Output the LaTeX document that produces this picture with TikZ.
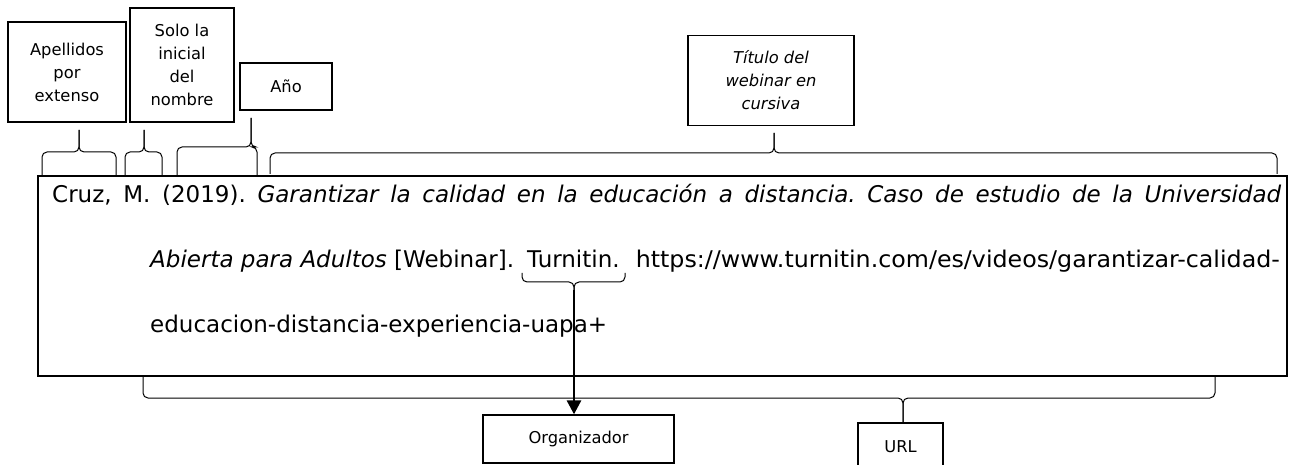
\documentclass[tikz,border=0pt]{standalone}
\usepackage{fontspec}
\setmainfont{DejaVu Sans}
\usetikzlibrary{arrows.meta}

\tikzset{
  etiqueta/.style={draw, line width=1.3pt, align=center, inner sep=0pt,
                   font=\fontsize{16.3}{23}\selectfont},
  llavelinea/.style={line width=1pt, rounded corners=5pt},
  flecha/.style={line width=2.8pt, -{Triangle[width=14pt,length=14pt]}},
  texto/.style={inner sep=0pt, font=\fontsize{23}{27}\selectfont},
}

% llave: x izq, x der, x punta, y linea, y extremos, y punta
\newcommand{\llave}[6]{%
  \draw[llavelinea] (#1,#5) -- (#1,#4) -- (#3,#4) -- (#3,#6);
  \draw[llavelinea] (#3,#6) -- (#3,#4) -- (#2,#4) -- (#2,#5);}

\begin{document}
\frenchspacing
\begin{tikzpicture}[x=1pt,y=-1pt]
  \useasboundingbox (0,0) rectangle (1294,465);

  % cajas de arriba
  \node[etiqueta, minimum width=118pt, minimum height=100pt] (apellidos) at (67,72) {Apellidos\\por\\extenso};
  \node[etiqueta, minimum width=104pt, minimum height=114pt] (inicial) at (182,65) {Solo la\\inicial\\del\\nombre};
  \node[etiqueta, minimum width=92pt, minimum height=47pt] (anio) at (286,86.5) {Año};
  \node[etiqueta, minimum width=166pt, minimum height=90pt,
        font=\fontsize{16.3}{23}\selectfont\itshape] (titulo) at (771,80.5) {Título del\\webinar en\\cursiva};

  % la referencia
  \node[draw, line width=2pt, minimum width=1249pt, minimum height=200pt, inner sep=0pt] (cita) at (662.5,276) {};
  \node[texto, anchor=base west] (linea1) at (52,203)
    {\makebox[1229pt][s]{Cruz, M. (2019). \textit{Garantizar la calidad en la educación a distancia. Caso de estudio de la Universidad}}};
  \node[texto, anchor=base west] (linea2) at (150,268) {\textit{Abierta para Adultos} [Webinar].};
  \node[texto, anchor=base west] (turnitin) at (527,268) {Turnitin.};
  \node[texto, anchor=base east] (enlace) at (1280,268)
    {\resizebox{644pt}{\height}{https://www.turnitin.com/es/videos/garantizar-calidad-}};
  \node[texto, anchor=base west] (linea3) at (150,333) {educacion-distancia-experiencia-uapa+};

  % cajas de abajo
  \node[etiqueta, minimum width=191pt, minimum height=48pt] (org) at (578.5,439) {Organizador};
  \node[etiqueta, minimum width=85pt, minimum height=48pt] (url) at (900.5,447) {URL};

  % llaves
  \llave{42}{116}{79}{152}{175}{130}
  \llave{125}{162}{144}{152}{175}{130}
  \llave{177}{257}{251}{147}{175}{118}
  \llave{270}{1277}{774}{153}{174}{133}
  \llave{522}{625}{574}{282}{273}{292}
  \llave{143}{1215}{903}{398}{377}{423}

  \coordinate (puntaorg) at (574,290);
  \draw[flecha] (puntaorg) -- (puntaorg |- org.north);
\end{tikzpicture}
\end{document}
